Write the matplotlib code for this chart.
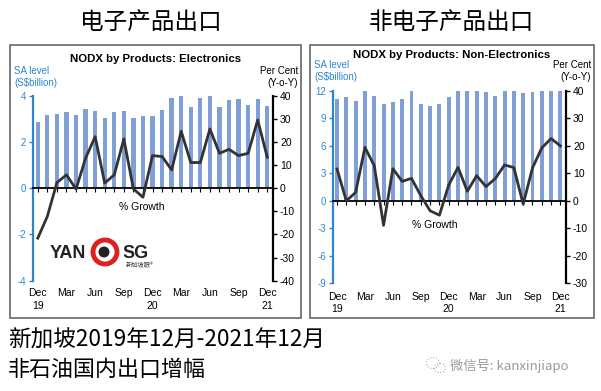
import matplotlib
matplotlib.use("Agg")
import matplotlib.pyplot as plt
from matplotlib import patches as mp
from matplotlib import transforms as mt
import numpy as np

plt.rcParams['font.family'] = ['Liberation Sans', 'Noto Sans CJK SC', 'DejaVu Sans']
plt.rcParams['axes.unicode_minus'] = False

months = ['Dec', 'Jan', 'Feb', 'Mar', 'Apr', 'May', 'Jun', 'Jul', 'Aug', 'Sep', 'Oct', 'Nov',
          'Dec', 'Jan', 'Feb', 'Mar', 'Apr', 'May', 'Jun', 'Jul', 'Aug', 'Sep', 'Oct', 'Nov', 'Dec']
years = {0: '19', 12: '20', 24: '21'}

# electronics: SA level (S$bn) and yoy growth (%)
elec_level = [2.86, 3.15, 3.22, 3.31, 3.18, 3.42, 3.34, 3.04, 3.29, 3.34, 3.05, 3.12,
              3.12, 3.38, 3.91, 3.99, 3.50, 3.90, 4.04, 3.50, 3.80, 3.86, 3.61, 3.87, 3.57]
elec_growth = [-21.6, -12.2, 2.4, 5.8, -0.4, 13.0, 22.3, 2.2, 5.8, 21.3, -0.3, -3.9,
               14.1, 13.7, 7.9, 24.6, 11.1, 11.1, 25.6, 15.1, 16.8, 14.1, 15.1, 29.5, 13.4]

# non-electronics
nonelec_level = [11.16, 11.30, 10.94, 12.3, 11.45, 10.54, 10.80, 11.10, 12.2, 10.58, 10.33, 10.60,
                 11.34, 12.1, 12.2, 12.1, 11.90, 11.45, 12.1, 12.1, 11.74, 11.85, 12.1, 12.2, 12.2]
nonelec_growth = [11.6, 0.0, 3.1, 19.5, 12.8, -8.9, 11.7, 7.1, 8.2, 1.9, -3.6, -5.2,
                  5.8, 12.2, 3.5, 9.2, 5.2, 8.1, 13.1, 12.1, -1.2, 12.0, 19.3, 22.7, 20.0]

BLUE_TXT = '#2F86D0'
BAR = '#7F9FD6'
LINE = '#333333'

W, H = 601, 391
fig = plt.figure(figsize=(W / 100, H / 100), dpi=100)


def rect(x0, y0, x1, y1):
    # pixel box (top-left origin) -> figure fraction
    return [x0 / W, 1 - y1 / H, (x1 - x0) / W, (y1 - y0) / H]


def panel(box, axbox, xlim, lev, gro, lylim, lticks, rylim, rticks, title, title_y,
          lab_y, growth_xy, month_y, year_y, bw):
    # frame
    fig.patches.append(mp.Rectangle((box[0] / W, 1 - box[3] / H), (box[2] - box[0]) / W,
                                    (box[3] - box[1]) / H, transform=fig.transFigure,
                                    fill=False, edgecolor='#666666', lw=1.2))
    ax = fig.add_axes(rect(*axbox))
    ax2 = ax.twinx()
    x = np.arange(len(lev))
    ax.bar(x, lev, width=bw, color=BAR, zorder=2, clip_on=True)
    ax2.plot(x, gro, color=LINE, lw=2, zorder=3)
    ax.set_xlim(*xlim)
    ax.set_ylim(*lylim)
    ax2.set_ylim(*rylim)
    ax.set_yticks(lticks)
    ax2.set_yticks(rticks)
    for a in (ax, ax2):
        a.spines['top'].set_visible(False)
        a.patch.set_visible(False)
    ax2.spines['left'].set_visible(False)
    ax2.spines['bottom'].set_visible(False)
    ax.spines['right'].set_visible(False)
    ax.spines['left'].set_color(BLUE_TXT)
    ax.spines['left'].set_linewidth(1.6)
    ax2.spines['right'].set_color('black')
    ax2.spines['right'].set_linewidth(1.6)
    ax.spines['bottom'].set_position(('data', 0))
    ax.spines['bottom'].set_linewidth(1.3)
    ax.spines['bottom'].set_zorder(4)
    ax.set_xticks(x)
    ax.set_xticklabels([])
    ax.tick_params(axis='x', direction='out', length=3, width=0.8, color='black')
    ax.tick_params(axis='y', colors=BLUE_TXT, labelsize=7, length=3, width=1, pad=2)
    ax2.tick_params(axis='y', colors='black', labelsize=7.5, length=3, width=1, pad=2)

    cx = (box[0] + box[2]) / 2
    fig.text(cx / W, 1 - title_y / H, title, ha='center', va='center', fontsize=8.2,
             fontweight='bold')
    fig.text((box[0] + 4) / W, 1 - lab_y[0] / H, 'SA level', color=BLUE_TXT, fontsize=7,
             va='center')
    fig.text((box[0] + 4) / W, 1 - lab_y[1] / H, '(S$billion)', color=BLUE_TXT, fontsize=7,
             va='center')
    fig.text((box[2] - 3) / W, 1 - lab_y[0] / H, 'Per Cent', fontsize=7, ha='right',
             va='center')
    fig.text((box[2] - 3) / W, 1 - lab_y[1] / H, '(Y-o-Y)', fontsize=7, ha='right',
             va='center')
    fig.text(growth_xy[0] / W, 1 - growth_xy[1] / H, '% Growth', fontsize=7.5,
             ha='center', va='center')

    tr = mt.blended_transform_factory(ax.transData, fig.transFigure)
    for i in range(0, len(months), 3):
        ax.text(i, 1 - month_y / H, months[i], transform=tr, ha='center', va='center',
                fontsize=7.5)
        if i in years:
            ax.text(i, 1 - year_y / H, years[i], transform=tr, ha='center', va='center',
                    fontsize=7.5)
    return ax


panel((10, 45, 301, 318), (33, 95.7, 273, 280.7), (-0.5, 24.6), elec_level, elec_growth,
      (-4, 4), [-4, -2, 0, 2, 4], (-40, 40), list(range(-40, 41, 10)),
      'NODX by Products: Electronics', 59, (71, 83), (142, 207), 293, 306, 0.45)

panel((310, 45, 594, 318), (333.3, 91, 566, 283.3), (-0.4, 24.6), nonelec_level,
      nonelec_growth, (-9, 12), [-9, -6, -3, 0, 3, 6, 9, 12], (-30, 40),
      list(range(-30, 41, 10)), 'NODX by Products: Non-Electronics', 55, (65, 77),
      (435, 225), 297, 309, 0.42)

# logo
fig.text(68 / W, 1 - 253 / H, 'YAN', fontsize=13, fontweight='bold', ha='center',
         va='center', color='#222222')
fig.text(136 / W, 1 - 253 / H, 'SG', fontsize=13, fontweight='bold', ha='center',
         va='center', color='#222222')
fig.patches.append(mp.Ellipse((105 / W, 1 - 252 / H), 24 / W, 24 / H, transform=fig.transFigure,
                              facecolor='white', edgecolor='#E02020', lw=3.5))
fig.patches.append(mp.Ellipse((104 / W, 1 - 252 / H), 11 / W, 11 / H, transform=fig.transFigure,
                              facecolor='#222222', edgecolor='none'))
fig.text(140 / W, 1 - 265 / H, '新加坡眼®', fontsize=4.5, ha='center', va='center',
         color='#333333', family=['Noto Sans CJK SC', 'DejaVu Sans'])

# Chinese headings
cjk = ['Noto Sans CJK SC', 'DejaVu Sans']
fig.text(151 / W, 1 - 22 / H, '电子产品出口', fontsize=17, ha='center', va='center',
         family=cjk)
fig.text(451 / W, 1 - 22 / H, '非电子产品出口', fontsize=17, ha='center', va='center',
         family=cjk)
fig.text(8 / W, 1 - 340 / H, '新加坡2019年12月-2021年12月', fontsize=16.3, ha='left',
         va='center', family=cjk)
fig.text(8 / W, 1 - 370 / H, '非石油国内出口增幅', fontsize=15.8, ha='left', va='center',
         family=cjk)
fig.text(450 / W, 1 - 366 / H, '微信号: kanxinjiapo', fontsize=9.5, ha='left', va='center',
         color='#9a9a9a', family=cjk)
fig.patches.append(mp.Ellipse((433 / W, 1 - 363 / H), 13 / W, 11 / H, transform=fig.transFigure,
                              facecolor='none', edgecolor='#b0b0b0', lw=0.8, ls=':'))
fig.patches.append(mp.Ellipse((440 / W, 1 - 368 / H), 11 / W, 9 / H, transform=fig.transFigure,
                              facecolor='none', edgecolor='#b0b0b0', lw=0.8, ls=':'))

fig.savefig('out.png', dpi=100)
